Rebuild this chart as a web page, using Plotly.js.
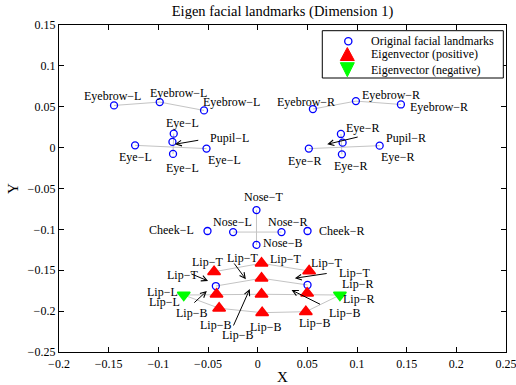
<!DOCTYPE html>
<html>
<head>
<meta charset="utf-8">
<script src="https://cdn.plot.ly/plotly-3.0.1.min.js"></script>
<style>html,body{margin:0;padding:0;background:#fff;}#chart{width:516px;height:385px;}</style>
</head>
<body>
<div id="chart"></div>
<script>
// ---------- DATA ----------
// Original facial landmarks (blue circles)
const circleNames = ["Eyebrow−L","Eyebrow−L","Eyebrow−L","Eyebrow−R","Eyebrow−R","Eyebrow−R",
  "Eye−L","Eye−L","Pupil−L","Eye−L","Eye−L","Eye−R","Eye−R","Pupil−R","Eye−R","Eye−R",
  "Nose−T","Nose−L","Nose−R","Nose−B","Cheek−L","Cheek−R","Lip−L","Lip−R"];
const circleX = [-0.1446,-0.0986,-0.0540, 0.0556, 0.0989, 0.1442,
  -0.1234,-0.0845,-0.0858,-0.0852,-0.0515, 0.0515, 0.0838, 0.0855, 0.0848, 0.1228,
  -0.0012,-0.0247, 0.0240,-0.0012,-0.0505, 0.0502,-0.0421, 0.0502];
const circleY = [ 0.0516, 0.0557, 0.0455, 0.0472, 0.0569, 0.0528,
   0.0028, 0.0171, 0.0070,-0.0077,-0.0012,-0.0012, 0.0167, 0.0061,-0.0082, 0.0024,
  -0.0764,-0.1033,-0.1033,-0.1190,-0.1020,-0.1020,-0.1693,-0.1680];

// Eigenvector (positive) – red triangles
const posX = [-0.0439,-0.0414,-0.0388, 0.0039, 0.0039, 0.0039, 0.0045, 0.0518, 0.0498, 0.0485];
const posY = [-0.1518,-0.1794,-0.1965,-0.1415,-0.1598,-0.1794,-0.2019,-0.1509,-0.1782,-0.2007];

// Eigenvector (negative) – green triangles
const negX = [-0.0744, 0.0828];
const negY = [-0.1803,-0.1803];

// Quiver arrows (tail -> head)
const arrowX0 = [-0.0583, 0.1022,-0.0683,-0.0247,-0.0653,-0.0250, 0.0710, 0.0643];
const arrowY0 = [ 0.0093, 0.0134,-0.1537,-0.1399,-0.1913,-0.2194,-0.1537,-0.1925];
const arrowX1 = [-0.0834, 0.0700,-0.0499,-0.0119,-0.0512,-0.0079, 0.0374, 0.0341];
const arrowY1 = [ 0.0041, 0.0041,-0.1631,-0.1611,-0.1754,-0.1729,-0.1598,-0.1742];

// Connections between landmarks (c = circle, p = positive, n = negative)
const connections = [
  ["c0","c1","c2"],["c3","c4","c5"],["c6","c10"],["c7","c9"],["c11","c15"],["c12","c14"],
  ["c16","c19"],["c17","c18"],
  ["p0","p3","p7"],["c22","p4","c23"],["n0","p5","n1"],["n0","p2","p6","p9","n1"]
];

// Text labels
const labelText = ["Eyebrow−L","Eyebrow−L","Eyebrow−L","Eyebrow−R","Eyebrow−R","Eyebrow−R",
  "Eye−L","Pupil−L","Eye−L","Eye−L","Eye−L","Eye−R","Pupil−R","Eye−R","Eye−R","Eye−R",
  "Nose−T","Nose−L","Nose−R","Nose−B","Cheek−L","Cheek−R",
  "Lip−T","Lip−T","Lip−T","Lip−T","Lip−T","Lip−T","Lip−L","Lip−L","Lip−R","Lip−R",
  "Lip−B","Lip−B","Lip−B","Lip−B","Lip−B","Lip−B"];
const labelX = [-0.1459,-0.0794,-0.0260, 0.0485, 0.1341, 0.1825,
  -0.0754,-0.0280,-0.1227,-0.0331,-0.0754, 0.1059, 0.1492, 0.0475, 0.1412, 0.0938,
   0.0062,-0.0255, 0.0299, 0.0248,-0.0865, 0.0848,
  -0.0502,-0.0150, 0.0284, 0.0697, 0.0979,-0.0754,-0.0960,-0.0935, 0.1009, 0.1019,
  -0.0666,-0.0421,-0.0200, 0.0082, 0.0576, 0.0878];
const labelY = [ 0.0631, 0.0668, 0.0558, 0.0558, 0.0644, 0.0497,
   0.0301, 0.0118,-0.0115,-0.0151,-0.0249, 0.0240, 0.0118,-0.0164,-0.0115,-0.0225,
  -0.0604,-0.0910,-0.0910,-0.1167,-0.1008,-0.1020,
  -0.1399,-0.1350,-0.1362,-0.1411,-0.1534,-0.1558,-0.1762,-0.1885,-0.1668,-0.1852,
  -0.2027,-0.2170,-0.2292,-0.2198,-0.2149,-0.2027];

const xTicks = [-0.2,-0.15,-0.1,-0.05,0,0.05,0.1,0.15,0.2,0.25];
const xTickText = ["−0.2","−0.15","−0.1","−0.05","0","0.05","0.1","0.15","0.2","0.25"];
const yTicks = [-0.25,-0.2,-0.15,-0.1,-0.05,0,0.05,0.1,0.15];
const yTickText = ["−0.25","−0.2","−0.15","−0.1","−0.05","0","0.05","0.1","0.15"];

const legendLabels = ["Original facial landmarks","Eigenvector (positive)","Eigenvector (negative)"];

// ---------- BUILD ----------
const FONT = "Liberation Serif, Times New Roman, serif";
function pt(ref){
  const k = ref[0], i = parseInt(ref.slice(1),10);
  if(k==="c") return [circleX[i], circleY[i]];
  if(k==="p") return [posX[i], posY[i]];
  return [negX[i], negY[i]];
}
const lx = [], ly = [];
connections.forEach(path => {
  path.forEach(r => { const p = pt(r); lx.push(p[0]); ly.push(p[1]); });
  lx.push(null); ly.push(null);
});

const traces = [
  {type:"scatter", mode:"lines", x:lx, y:ly, line:{color:"#c4c4c4", width:1}, connectgaps:false, showlegend:false, hoverinfo:"skip"},
  {type:"scatter", mode:"markers", x:circleX, y:circleY, text:circleNames, showlegend:false,
   marker:{symbol:"circle-open", size:7, color:"#0000ff", line:{width:1.3, color:"#0000ff"}}},
  {type:"scatter", mode:"markers", x:posX, y:posY, showlegend:false,
   marker:{symbol:"triangle-up", size:11, color:"#ff0000", line:{width:1.5, color:"#ff0000"}}},
  {type:"scatter", mode:"markers", x:negX, y:negY, showlegend:false,
   marker:{symbol:"triangle-down", size:11, color:"#00ff00", line:{width:1.5, color:"#00ff00"}}}
];

const annotations = [];
for(let i=0;i<arrowX0.length;i++){
  annotations.push({x:arrowX1[i], y:arrowY1[i], ax:arrowX0[i], ay:arrowY0[i],
    xref:"x", yref:"y", axref:"x", ayref:"y", text:"", showarrow:true,
    arrowhead:5, arrowsize:1.1, arrowwidth:1, arrowcolor:"#000", standoff:0, startstandoff:0});
}
for(let i=0;i<labelText.length;i++){
  annotations.push({x:labelX[i], y:labelY[i], xref:"x", yref:"y", text:labelText[i],
    showarrow:false, xanchor:"center", yanchor:"middle", font:{family:FONT, size:12, color:"#000"}});
}
// manual legend (box, key symbols, texts)
const legTextY = [0.9511, 0.9098, 0.8624];
legendLabels.forEach((t,i)=>{
  annotations.push({x:0.6942, y:legTextY[i], xref:"paper", yref:"paper", text:t, showarrow:false,
    xanchor:"left", yanchor:"middle", font:{family:FONT, size:12, color:"#000"}});
});
const shapes = [
  {type:"rect", xref:"paper", yref:"paper", x0:0.589, x1:0.994, y0:0.8379, y1:0.9826,
   line:{color:"#000", width:1}, fillcolor:"#fff", layer:"above"},
  {type:"circle", xref:"paper", yref:"paper", xsizemode:"pixel", ysizemode:"pixel",
   xanchor:0.6472, yanchor:0.9502, x0:-3.6, x1:3.6, y0:-3.6, y1:3.6,
   line:{color:"#0000ff", width:1.3}, fillcolor:"rgba(0,0,0,0)"},
  {type:"path", xref:"paper", yref:"paper", xsizemode:"pixel", ysizemode:"pixel",
   xanchor:0.645, yanchor:0.9113, path:"M-7,-6.5 L7,-6.5 L0,6.5 Z",
   line:{color:"#ff0000", width:1}, fillcolor:"#ff0000"},
  {type:"path", xref:"paper", yref:"paper", xsizemode:"pixel", ysizemode:"pixel",
   xanchor:0.645, yanchor:0.8633, path:"M-7,7 L7,7 L0,-7 Z",
   line:{color:"#00ff00", width:1}, fillcolor:"#00ff00"}
];

const axisCommon = {
  showline:true, linecolor:"#000", linewidth:1.2, mirror:"ticks", ticks:"inside", ticklen:5,
  tickcolor:"#000", tickwidth:1, showgrid:false, zeroline:false, automargin:false,
  ticklabeloverflow:"allow",
  tickfont:{family:FONT, size:12, color:"#000"}
};
const layout = {
  width:516, height:385,
  margin:{l:59, r:10, t:25, b:33, pad:0},
  paper_bgcolor:"#fff", plot_bgcolor:"#fff",
  font:{family:FONT, color:"#000"},
  showlegend:false,
  title:{text:"Eigen facial landmarks (Dimension 1)", font:{family:FONT, size:14.5, color:"#000"},
         x:0.5, xref:"paper", xanchor:"center", y:1-11/385, yref:"container", yanchor:"middle"},
  xaxis:Object.assign({}, axisCommon, {range:[-0.2,0.25], tickvals:xTicks, ticktext:xTickText,
         title:{text:"X", font:{family:FONT, size:15, color:"#000"}, standoff:2}}),
  yaxis:Object.assign({}, axisCommon, {range:[-0.25,0.15], tickvals:yTicks, ticktext:yTickText,
         title:{text:"Y", font:{family:FONT, size:15, color:"#000"}, standoff:5}}),
  annotations:annotations,
  shapes:shapes
};
Plotly.newPlot("chart", traces, layout, {staticPlot:true, displayModeBar:false});
</script>
</body>
</html>
